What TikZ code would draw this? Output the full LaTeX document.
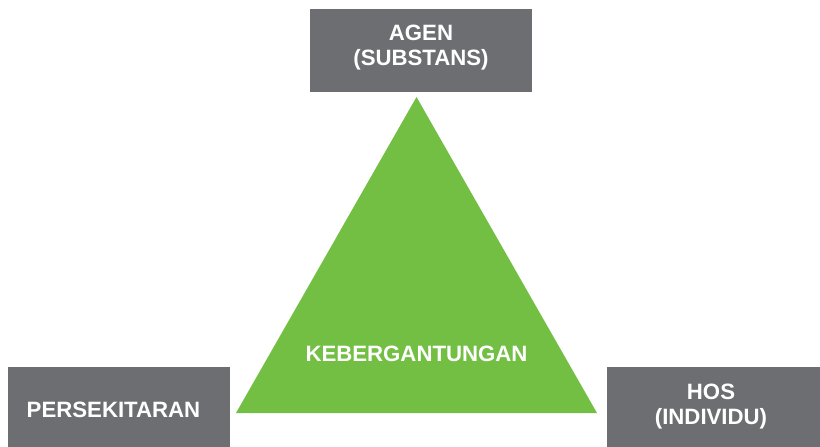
\documentclass[tikz,border=0pt]{standalone}
\usepackage{fontspec}
\setmainfont{Liberation Sans}
\definecolor{boxgray}{HTML}{6D6E71}
\definecolor{trigreen}{HTML}{72BF44}
\begin{document}
\begin{tikzpicture}[x=1pt,y=-1pt,
  graybox/.style={fill=boxgray,draw=none},
  label/.style={text=white,font=\fontsize{22.2}{25}\selectfont\bfseries,align=center,inner sep=0pt}]
\useasboundingbox (0,0) rectangle (820,447);
% boxes
\fill[graybox] (310,9) rectangle (532,92);
\fill[graybox] (8,367) rectangle (230,447);
\fill[graybox] (607,367) rectangle (820,447);
% triangle
\coordinate (apex) at (416.5,97);
\coordinate (bl) at (236,413);
\coordinate (br) at (597,413);
\fill[trigreen] (apex) -- (bl) -- (br) -- cycle;
% texts
\node[label] (agen) at (421,48) {AGEN\\(SUBSTANS)};
\node[label] (pers) at (113.5,410) {PERSEKITARAN};
\node[label] (hos) at (711,407) {HOS\\(INDIVIDU)};
\node[label] (keb) at (416.5,354) {KEBERGANTUNGAN};
\end{tikzpicture}
\end{document}
